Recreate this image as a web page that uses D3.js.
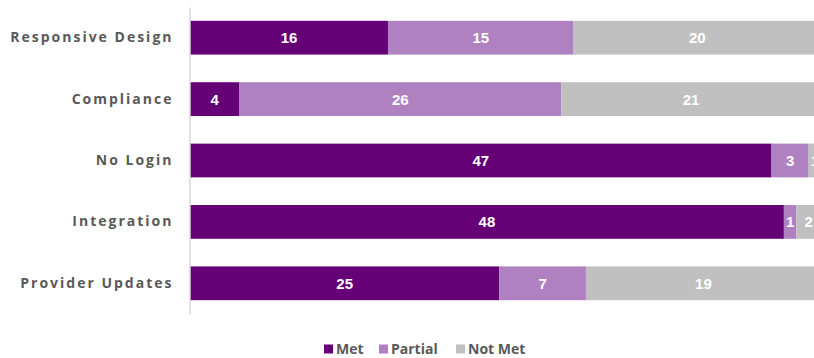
<!DOCTYPE html>
<html>
<head>
<meta charset="utf-8">
<script src="https://cdn.jsdelivr.net/npm/d3@7"></script>
<style>
body { margin: 0; background: #fff; }
svg { display: block; }
</style>
</head>
<body>
<div id="chart"></div>
<script>
var categories = ["Responsive Design", "Compliance", "No Login", "Integration", "Provider Updates"];
var seriesNames = ["Met", "Partial", "Not Met"];
var met = [16, 4, 47, 48, 25];
var partial = [15, 26, 3, 1, 7];
var notMet = [20, 21, 1, 2, 19];

var width = 814, height = 358;
var colors = { "Met": "#650077", "Partial": "#b081c0", "Not Met": "#c0c0c0" };

var rows = categories.map(function (c, i) {
    return { cat: c, "Met": met[i], "Partial": partial[i], "Not Met": notMet[i] };
});
var stacked = d3.stack().keys(seriesNames)(rows);

// axis runs a bit past the right edge, like the original screenshot
var x = d3.scaleLinear().domain([0, 51]).range([190, 821]);
var y = d3.scaleBand().domain(categories).range([7, 314]).paddingInner(0.45).paddingOuter(0.225);

var svg = d3.select("#chart").append("svg")
    .attr("width", width)
    .attr("height", height);

var layers = svg.selectAll("g.layer")
    .data(stacked)
    .enter().append("g")
    .attr("class", "layer")
    .attr("fill", function (d) { return colors[d.key]; });

layers.selectAll("rect")
    .data(function (d) { return d; })
    .enter().append("rect")
    .attr("x", function (d) { return x(d[0]); })
    .attr("y", function (d) { return y(d.data.cat); })
    .attr("width", function (d) { return x(d[1]) - x(d[0]); })
    .attr("height", y.bandwidth());

layers.selectAll("text")
    .data(function (d) { return d; })
    .enter().append("text")
    .attr("x", function (d) { return (x(d[0]) + x(d[1])) / 2; })
    .attr("y", function (d) { return y(d.data.cat) + y.bandwidth() / 2; })
    .attr("dy", "0.36em")
    .attr("text-anchor", "middle")
    .attr("fill", "#fff")
    .style("font-family", "Liberation Sans, Arial, sans-serif")
    .style("font-weight", "bold")
    .style("font-size", "15px")
    .text(function (d) { return d[1] - d[0]; });

// category axis
var yAxis = svg.append("g")
    .attr("transform", "translate(189.5,0)")
    .call(d3.axisLeft(y).tickSize(0).tickPadding(16));
yAxis.select(".domain").attr("stroke", "#d9d9d9").attr("stroke-width", 1.5);
yAxis.selectAll("text")
    .attr("fill", "#595959")
    .style("font-family", "'Open Sans', sans-serif")
    .style("font-weight", "bold")
    .style("font-size", "14px")
    .style("letter-spacing", "2px");

// legend
var legend = svg.append("g").attr("transform", "translate(0,349)");
var legendX = [324, 379, 456];
var item = legend.selectAll("g")
    .data(seriesNames)
    .enter().append("g")
    .attr("transform", function (d, i) { return "translate(" + legendX[i] + ",0)"; });
item.append("rect")
    .attr("x", 0).attr("y", -4.5)
    .attr("width", 9).attr("height", 9)
    .attr("fill", function (d) { return colors[d]; });
item.append("text")
    .attr("x", 12)
    .attr("dy", "0.35em")
    .attr("fill", "#595959")
    .style("font-family", "'Open Sans', sans-serif")
    .style("font-weight", "bold")
    .style("font-size", "14px")
    .text(function (d) { return d; });
</script>
</body>
</html>
